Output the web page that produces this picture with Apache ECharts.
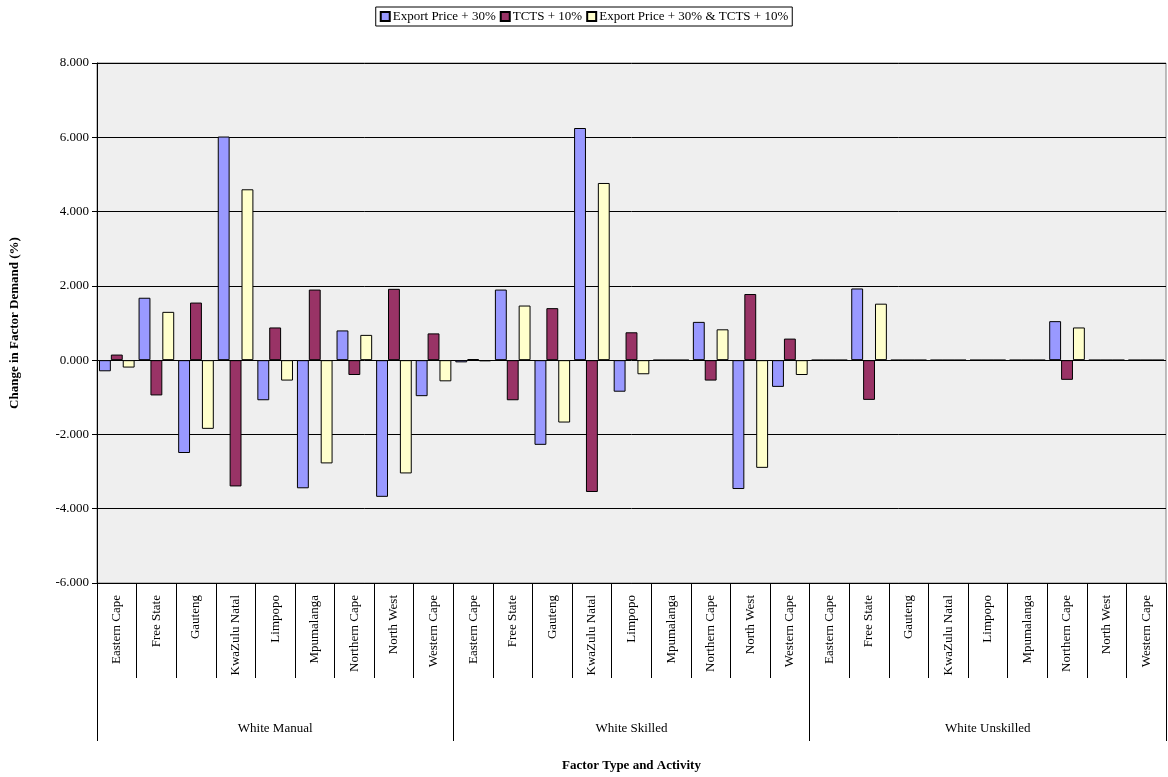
<!DOCTYPE html>
<html><head><meta charset="utf-8">
<script src="https://cdn.jsdelivr.net/npm/echarts@6/dist/echarts.min.js"></script>
<style>html,body{margin:0;background:#fff}#c{width:1168px;height:777px}</style>
</head><body><div id="c"></div>
<script>
const regions = ['Eastern Cape','Free State','Gauteng','KwaZulu Natal','Limpopo','Mpumalanga','Northern Cape','North West','Western Cape'];
const groups = ['White Manual','White Skilled','White Unskilled'];
const categories = groups.flatMap(() => regions);
const seriesNames = ['Export Price + 30%','TCTS + 10%','Export Price + 30% & TCTS + 10%'];
// values per category, in order of categories
const exportPrice = [-0.30,1.68,-2.50,6.02,-1.08,-3.45,0.80,-3.68,-0.97,
  -0.06,1.90,-2.28,6.25,-0.85,0,1.03,-3.47,-0.72,
  0,1.93,0,0,0,0,1.05,0,0];
const tcts = [0.15,-0.95,1.55,-3.40,0.88,1.90,-0.40,1.92,0.72,
  0.03,-1.08,1.40,-3.55,0.75,0,-0.55,1.78,0.58,
  0,-1.07,0,0,0,0,-0.53,0,0];
const combined = [-0.20,1.30,-1.85,4.60,-0.55,-2.78,0.68,-3.05,-0.57,
  -0.03,1.47,-1.68,4.77,-0.38,0,0.83,-2.90,-0.40,
  0,1.52,0,0,0,0,0.88,0,0];
const colors = ['#9999ff','#993366','#ffffcc'];
const font = 'Liberation Serif';

const chart = echarts.init(document.getElementById('c'));
chart.setOption({
  animation: false,
  textStyle: { fontFamily: font, color: '#000' },
  legend: {
    top: 7, left: 'center', itemGap: 4, itemWidth: 9, itemHeight: 9,
    borderColor: '#000', borderWidth: 1, padding: [3, 4],
    textStyle: { fontFamily: font, fontSize: 13, color: '#000', padding: [0, 0, 0, -2] },
    data: seriesNames.map(n => ({ name: n, icon: 'rect' }))
  },
  grid: { left: 97, right: 2, top: 63, bottom: 190, show: true, backgroundColor: '#efefef', borderColor: '#808080', borderWidth: 1 },
  xAxis: [{
    type: 'category', data: categories, position: 'bottom',
    axisLine: { onZero: false, lineStyle: { color: '#000' } },
    axisTick: { show: true, length: 95, lineStyle: { color: '#000' } },
    axisLabel: { rotate: 90, interval: 0, fontSize: 13, margin: 12, color: '#000' }
  }, {
    type: 'category', data: groups, position: 'bottom',
    axisLine: { show: false, onZero: false },
    axisTick: { show: true, length: 158, lineStyle: { color: '#000' } },
    axisLabel: { fontSize: 13, margin: 139, color: '#000' },
    name: 'Factor Type and Activity', nameLocation: 'middle', nameGap: 176,
    nameTextStyle: { fontWeight: 'bold', fontSize: 13 }
  }],
  yAxis: {
    type: 'value', min: -6, max: 8, interval: 2,
    name: 'Change in Factor Demand (%)', nameLocation: 'middle', nameGap: 76,
    nameTextStyle: { fontWeight: 'bold', fontSize: 13 },
    axisLine: { show: true, lineStyle: { color: '#000' } },
    axisTick: { show: true, inside: false, length: 5, lineStyle: { color: '#000' } },
    axisLabel: { formatter: v => v.toFixed(3), fontSize: 13, color: '#000' },
    splitLine: { lineStyle: { color: '#000', width: 1 } }
  },
  series: [exportPrice, tcts, combined].map((d, i) => ({
    name: seriesNames[i], type: 'bar', data: d, xAxisIndex: 0,
    barGap: '0%', barCategoryGap: '10%',
    itemStyle: { color: colors[i], borderColor: '#000', borderWidth: 1 }
  }))
});
</script></body></html>
